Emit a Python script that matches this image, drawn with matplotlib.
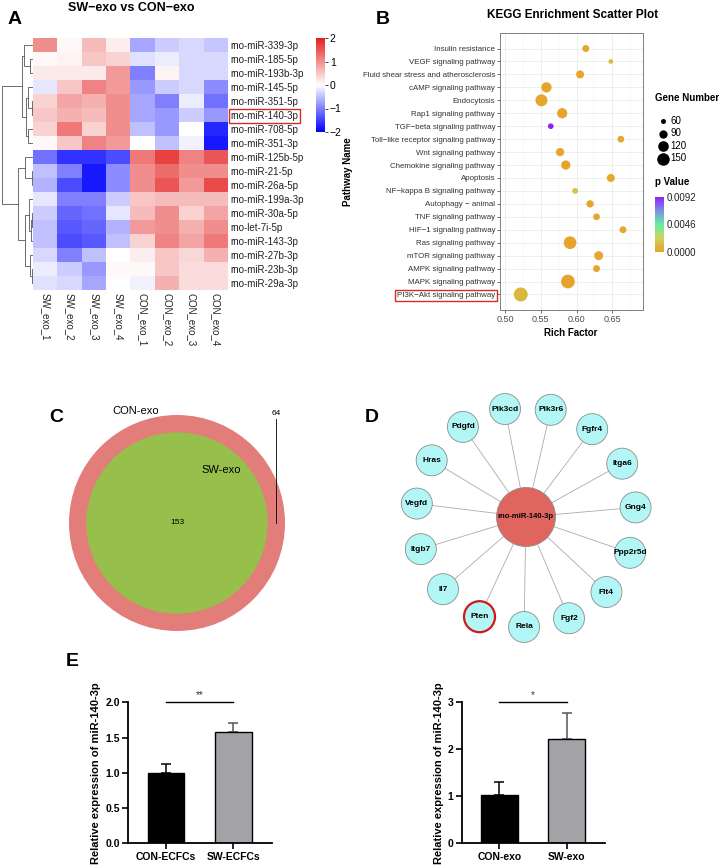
import numpy as np
import matplotlib
matplotlib.use('Agg')
import matplotlib.pyplot as plt
from matplotlib.colors import LinearSegmentedColormap
from matplotlib.patches import Circle

plt.rcParams['font.family'] = ['Liberation Sans', 'DejaVu Sans']

W, H = 725, 868

# ---- A: heatmap ----
mirnas = ['rno-miR-339-3p', 'rno-miR-185-5p', 'rno-miR-193b-3p', 'rno-miR-145-5p',
          'rno-miR-351-5p', 'rno-miR-140-3p', 'rno-miR-708-5p', 'rno-miR-351-3p',
          'rno-miR-125b-5p', 'rno-miR-21-5p', 'rno-miR-26a-5p', 'rno-miR-199a-3p',
          'rno-miR-30a-5p', 'rno-let-7i-5p', 'rno-miR-143-3p', 'rno-miR-27b-3p',
          'rno-miR-23b-3p', 'rno-miR-29a-3p']
samples = ['SW_exo_1', 'SW_exo_2', 'SW_exo_3', 'SW_exo_4',
           'CON_exo_1', 'CON_exo_2', 'CON_exo_3', 'CON_exo_4']
expr = np.array([
    [1.0, 0.05, 0.6, 0.15, -0.7, -0.4, -0.3, -0.45],
    [0.05, 0.1, 0.5, 0.4, -0.25, -0.15, -0.3, -0.3],
    [0.2, 0.2, 0.2, 0.9, -1.0, 0.1, -0.3, -0.3],
    [-0.2, 0.5, 1.1, 0.9, -0.8, -0.4, -0.3, -0.9],
    [0.4, 0.8, 0.7, 1.0, -0.7, -1.0, -0.15, -1.1],
    [0.5, 0.7, 0.6, 1.0, -0.7, -0.8, -0.4, -0.8],
    [0.4, 1.2, 0.4, 1.0, -0.5, -0.8, 0.0, -1.7],
    [0.05, 0.5, 1.1, 0.9, 0.0, -0.5, -0.1, -1.8],
    [-1.1, -1.6, -1.6, -1.4, 1.2, 1.7, 1.1, 1.5],
    [-0.5, -1.0, -1.8, -0.9, 1.0, 1.3, 1.0, 1.0],
    [-0.6, -1.4, -1.8, -0.9, 1.0, 1.5, 0.9, 1.6],
    [-0.2, -1.0, -1.0, -0.4, 0.5, 0.6, 0.6, 0.6],
    [-0.4, -1.2, -1.1, -0.2, 0.6, 1.0, 0.4, 0.8],
    [-0.5, -1.3, -1.2, -0.6, 0.9, 1.0, 0.7, 1.0],
    [-0.5, -1.4, -1.3, -0.5, 0.4, 1.1, 0.8, 1.2],
    [-0.3, -1.0, -0.5, 0.0, 0.15, 0.5, 0.35, 0.7],
    [-0.15, -0.4, -0.8, 0.05, 0.05, 0.5, 0.3, 0.3],
    [-0.25, -0.3, -0.7, 0.0, -0.1, 0.7, 0.3, 0.3],
])
# row clustering, scipy-style: [cluster a, cluster b, height]
row_linkage = [
    [1, 2, 3.0], [4, 5, 1.5], [3, 19, 4.7], [6, 7, 5.0], [20, 21, 7.3],
    [0, 18, 8.7], [23, 22, 11.3], [9, 10, 1.5], [8, 25, 8.0], [12, 13, 1.5],
    [27, 14, 2.5], [11, 28, 4.5], [16, 17, 1.5], [15, 30, 3.5], [29, 31, 8.5],
    [26, 32, 14.7], [24, 33, 31.0],
]

# ---- B: KEGG ----
pathways = ['Insulin resistance', 'VEGF signaling pathway',
            'Fluid shear stress and atherosclerosis', 'cAMP signaling pathway',
            'Endocytosis', 'Rap1 signaling pathway', 'TGF\u2212beta signaling pathway',
            'Toll\u2212like receptor signaling pathway', 'Wnt signaling pathway',
            'Chemokine signaling pathway', 'Apoptosis', 'NF\u2212kappa B signaling pathway',
            'Autophagy \u2212 animal', 'TNF signaling pathway', 'HIF\u22121 signaling pathway',
            'Ras signaling pathway', 'mTOR signaling pathway', 'AMPK signaling pathway',
            'MAPK signaling pathway', 'PI3K\u2212Akt signaling pathway']
rich_factor = [0.613, 0.648, 0.605, 0.558, 0.551, 0.580, 0.564, 0.662, 0.577, 0.585,
               0.648, 0.598, 0.619, 0.628, 0.665, 0.591, 0.631, 0.628, 0.588, 0.522]
gene_number = [76, 58, 87, 115, 142, 115, 65, 74, 90, 102,
               87, 67, 79, 74, 76, 153, 98, 76, 172, 177]
p_value = [0.0002, 0.0012, 0.0002, 0.0001, 0.0002, 0.0001, 0.0092, 0.0003, 0.0002, 0.0001,
           0.0002, 0.0017, 0.0002, 0.0002, 0.0003, 0.0001, 0.0002, 0.0002, 0.0001, 0.0010]
size_legend = [60, 90, 120, 150]
p_ticks = [0.0, 0.0046, 0.0092]

# ---- C: Venn ----
con_only = 64
shared = 153

# ---- D: network ----
hub = 'rno-miR-140-3p'
targets = ['Pik3cd', 'Pik3r6', 'Fgfr4', 'Itga6', 'Gng4', 'Ppp2r5d', 'Flt4', 'Fgf2',
           'Rela', 'Pten', 'Il7', 'Itgb7', 'Vegfd', 'Hras', 'Pdgfd']
highlight = 'Pten'

# ---- E: qPCR ----
ecfc_groups = ['CON-ECFCs', 'SW-ECFCs']
ecfc_mean = [1.00, 1.58]
ecfc_err = [0.125, 0.13]
exo_groups = ['CON-exo', 'SW-exo']
exo_mean = [1.03, 2.22]
exo_err = [0.28, 0.55]

fig = plt.figure(figsize=(W / 100, H / 100), dpi=100)


def px_axes(x0, y0, x1, y1):
    return fig.add_axes([x0 / W, 1 - y1 / H, (x1 - x0) / W, (y1 - y0) / H])


def letter(x, y, s):
    fig.text(x / W, 1 - y / H, s, fontsize=14, fontweight='bold', ha='center', va='center')


# A heatmap
ax = px_axes(33, 38, 228, 290)
hm_cmap = LinearSegmentedColormap.from_list('bwr2', ['#0000FF', '#FFFFFF', '#E3201F'])
im = ax.imshow(expr, cmap=hm_cmap, vmin=-2, vmax=2, aspect='auto', interpolation='nearest')
ax.set_xticks(range(len(samples)))
ax.set_xticklabels(samples, rotation=270, fontsize=7, color='#222222')
ax.set_yticks(range(len(mirnas)))
ax.set_yticklabels(mirnas, fontsize=7, color='#222222')
ax.yaxis.tick_right()
ax.tick_params(length=0, pad=2)
for s in ax.spines.values():
    s.set_visible(False)
ax.get_yticklabels()[mirnas.index('rno-miR-140-3p')].set_bbox(
    dict(facecolor='none', edgecolor='#D22B2B', linewidth=1.0, pad=1.2))

cax = px_axes(316, 38, 325, 132)
cb = fig.colorbar(im, cax=cax, ticks=[-2, -1, 0, 1, 2])
cb.outline.set_visible(False)
cb.ax.tick_params(labelsize=7.5, length=2, width=0.5, pad=1.5)

dax = px_axes(0, 38, 33, 290)
n = len(mirnas)
pos = {i: (float(i), 0.0) for i in range(n)}
for k, (a, b, h) in enumerate(row_linkage):
    ya, ha = pos[a]
    yb, hb = pos[b]
    dax.plot([ha, h, h, hb], [ya, ya, yb, yb], color='#555555', lw=0.6)
    pos[n + k] = ((ya + yb) / 2, h)
dax.set_xlim(33, 0)
dax.set_ylim(n - 0.5, -0.5)
dax.axis('off')

fig.text(131 / W, 1 - 8 / H, 'SW\u2212exo vs CON\u2212exo', fontsize=9, fontweight='bold',
         ha='center', va='center')
letter(15, 19, 'A')

# B KEGG scatter
ax = px_axes(500, 33, 643, 310)
yk = np.arange(len(pathways))[::-1]
kegg_cmap = LinearSegmentedColormap.from_list(
    'kegg', ['#E8A22A', '#CCD35A', '#63F0A2', '#7D8FE6', '#8F25F2'])


def dot_size(v):
    d_px = np.sqrt(np.maximum(1.456 * np.asarray(v, dtype=float) - 62.3, 4))
    return (d_px * 0.72) ** 2


sc = ax.scatter(rich_factor, yk, s=dot_size(gene_number), c=p_value, cmap=kegg_cmap,
                vmin=0, vmax=0.0092, zorder=3, linewidths=0)
ax.set_xlim(0.493, 0.693)
ax.set_ylim(-1.2, len(pathways) - 1 + 1.2)
ax.set_yticks(yk)
ax.set_yticklabels(pathways, fontsize=5.7, color='#333333')
ax.set_xticks([0.50, 0.55, 0.60, 0.65])
ax.set_xticklabels(['0.50', '0.55', '0.60', '0.65'], fontsize=6.5, color='#4D4D4D')
ax.set_xticks([0.525, 0.575, 0.625, 0.675], minor=True)
ax.grid(True, which='major', color='#EBEBEB', lw=0.6)
ax.grid(True, which='minor', axis='x', color='#F3F3F3', lw=0.35)
ax.set_axisbelow(True)
ax.tick_params(length=2, width=0.5, color='#333333', pad=1.5)
ax.tick_params(which='minor', length=0)
for s in ax.spines.values():
    s.set_color('#7F7F7F')
    s.set_linewidth(0.7)
ax.get_yticklabels()[pathways.index('PI3K\u2212Akt signaling pathway')].set_bbox(
    dict(facecolor='none', edgecolor='#D22B2B', linewidth=1.0, pad=1.5))

fig.text(573 / W, 1 - 15 / H, 'KEGG Enrichment Scatter Plot', fontsize=8.5, fontweight='bold',
         ha='center', va='center')
fig.text(571 / W, 1 - 333 / H, 'Rich Factor', fontsize=7, fontweight='bold',
         ha='center', va='center')
fig.text(348 / W, 1 - 172 / H, 'Pathway Name', fontsize=7, fontweight='bold',
         ha='center', va='center', rotation=90)
letter(383, 19, 'B')

fig.text(655 / W, 1 - 98 / H, 'Gene Number', fontsize=7, fontweight='bold', ha='left', va='center')
handles = [ax.scatter([], [], s=dot_size(v), color='black', linewidths=0) for v in size_legend]
leg = fig.legend(handles, [str(v) for v in size_legend],
                 loc='upper left', bbox_to_anchor=(652 / W, 1 - 111 / H), frameon=False,
                 fontsize=7, handletextpad=0.2, labelspacing=0.25, borderpad=0,
                 handlelength=1.2)

fig.text(655 / W, 1 - 182 / H, 'p Value', fontsize=7, fontweight='bold', ha='left', va='center')
pax = px_axes(655, 197, 664, 252)
pcb = fig.colorbar(sc, cax=pax, ticks=p_ticks)
pcb.ax.set_yticklabels(['%.4f' % t for t in p_ticks])
pcb.outline.set_visible(False)
pcb.ax.tick_params(labelsize=7, length=0, pad=2, labelcolor='#222222')

# C Venn
ax = px_axes(30, 380, 330, 670)
ax.set_xlim(30 - 177, 330 - 177)
ax.set_ylim(-(670 - 523), 523 - 380)
ax.axis('off')
k = 108 / np.sqrt(con_only + shared)
r_out = k * np.sqrt(con_only + shared)
r_in = k * np.sqrt(shared)
ax.add_patch(Circle((0, 0), r_out, facecolor='#E27D7A', edgecolor='none'))
ax.add_patch(Circle((0, 0), r_in, facecolor='#97BF4B', edgecolor='none'))
ax.text(-0.38 * r_out, 1.04 * r_out, 'CON-exo', fontsize=8, ha='center', va='center')
ax.text(0.41 * r_out, 0.49 * r_out, 'SW-exo', fontsize=8, ha='center', va='center')
ax.text(0, 0, str(shared), fontsize=6, ha='center', va='center')
ax.text(0.92 * r_out, 1.01 * r_out, str(con_only), fontsize=6, ha='center', va='center')
ax.plot([0.92 * r_out, 0.92 * r_out], [0.96 * r_out, 0], color='black', lw=0.6)
letter(56, 417, 'C')

# D network
ax = px_axes(360, 380, 725, 660)
ax.set_xlim(360 - 526, 725 - 526)
ax.set_ylim(-(660 - 517), 517 - 380)
ax.axis('off')
ring, node_r, hub_r = 110, 15.5, 29.5
ang = np.deg2rad(101 - 360 / len(targets) * np.arange(len(targets)))
for t, a in zip(targets, ang):
    x, y = ring * np.cos(a), ring * np.sin(a)
    ax.plot([0, x], [0, y], color='#ABABAB', lw=0.6, zorder=1)
    red = t == highlight
    ax.add_patch(Circle((x, y), node_r, facecolor='#B2F6F6',
                        edgecolor='#D01818' if red else '#8C8C8C',
                        lw=1.6 if red else 0.6, zorder=2))
    ax.text(x, y, t, fontsize=6, fontweight='bold', ha='center', va='center', zorder=4)
ax.add_patch(Circle((0, 0), hub_r, facecolor='#E0655F', edgecolor='#8C8C8C', lw=0.6, zorder=3))
ax.text(0, 0, hub, fontsize=5.5, fontweight='bold', ha='center', va='center', zorder=4)
letter(372, 417, 'D')


# E bars
def bar_panel(ax, groups, means, errs, yticks, fmt, stars, label_x):
    x = np.arange(len(groups))
    colors = ['black', '#A3A3A7']
    ax.bar(x, means, width=0.545, color=colors, edgecolor='black', lw=1.0, zorder=2)
    for xi, m, e, c in zip(x, means, errs, ['black', '#555555']):
        ax.errorbar(xi, m, yerr=[[0], [e]], color=c, capsize=3.5, lw=1.1, capthick=1.1, zorder=1)
    ymax = yticks[-1]
    ax.set_ylim(0, ymax)
    ax.set_xlim(-0.56, 1.57)
    ax.set_yticks(yticks)
    ax.set_yticklabels([fmt % t for t in yticks])
    ax.set_xticks(x)
    ax.set_xticklabels(groups)
    for s in ['top', 'right']:
        ax.spines[s].set_visible(False)
    for s in ['left', 'bottom']:
        ax.spines[s].set_linewidth(1.3)
    ax.tick_params(length=4, width=1.2, labelsize=7.5, pad=2)
    for lab in ax.get_xticklabels() + ax.get_yticklabels():
        lab.set_fontweight('bold')
    ax.plot([0, 1], [ymax, ymax], color='black', lw=1.0, clip_on=False)
    ax.annotate(stars, (0.5, ymax), xytext=(0, 1.5), textcoords='offset points',
                ha='center', va='bottom', fontsize=7, color='#333333')
    ax.set_ylabel('Relative expression of miR-140-3p', fontsize=8, fontweight='bold')
    ax.yaxis.set_label_coords(label_x, 0.5)


ax = px_axes(128.3, 702.3, 271.7, 843.3)
bar_panel(ax, ecfc_groups, ecfc_mean, ecfc_err, [0.0, 0.5, 1.0, 1.5, 2.0], '%.1f', '**', -0.19)
ax = px_axes(461.7, 702.3, 605, 843.3)
bar_panel(ax, exo_groups, exo_mean, exo_err, [0, 1, 2, 3], '%d', '*', -0.125)
letter(72, 662, 'E')

fig.savefig('out.png', dpi=100)
